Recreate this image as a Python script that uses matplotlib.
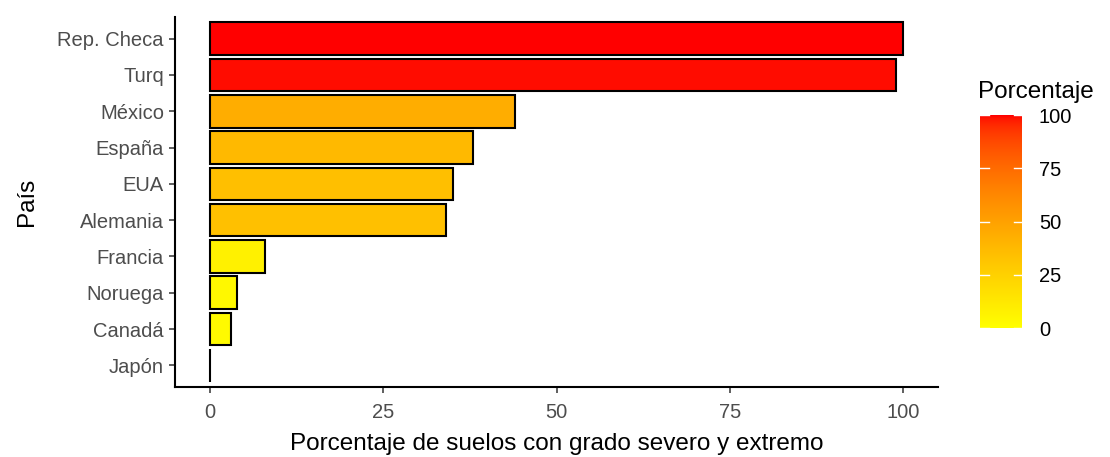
import matplotlib
matplotlib.use("Agg")
import matplotlib.pyplot as plt
import numpy as np
from matplotlib.colors import ListedColormap, Normalize

plt.rcParams['font.family'] = ['Liberation Sans', 'DejaVu Sans']

paises = ['Rep. Checa', 'Turq', 'México', 'España', 'EUA', 'Alemania',
          'Francia', 'Noruega', 'Canadá', 'Japón']
porcentaje = [100, 99, 44, 38, 35, 34, 8, 4, 3, 0]


# ggplot-like gradient yellow -> red, interpolated in Lab space
def srgb_to_lab(rgb):
    c = np.array(rgb, dtype=float)
    c = np.where(c <= 0.04045, c / 12.92, ((c + 0.055) / 1.055) ** 2.4)
    m = np.array([[0.4124, 0.3576, 0.1805],
                  [0.2126, 0.7152, 0.0722],
                  [0.0193, 0.1192, 0.9505]])
    xyz = m @ c / np.array([0.95047, 1.0, 1.08883])
    f = np.where(xyz > 0.008856, np.cbrt(xyz), 7.787 * xyz + 16 / 116)
    return np.array([116 * f[1] - 16, 500 * (f[0] - f[1]), 200 * (f[1] - f[2])])


def lab_to_srgb(lab):
    L, a, b = lab
    fy = (L + 16) / 116
    fx = fy + a / 500
    fz = fy - b / 200
    f = np.array([fx, fy, fz])
    xyz = np.where(f ** 3 > 0.008856, f ** 3, (f - 16 / 116) / 7.787)
    xyz = xyz * np.array([0.95047, 1.0, 1.08883])
    minv = np.array([[3.2406, -1.5372, -0.4986],
                     [-0.9689, 1.8758, 0.0415],
                     [0.0557, -0.2040, 1.0570]])
    c = minv @ xyz
    c = np.where(c <= 0.0031308, 12.92 * c, 1.055 * np.clip(c, 0, None) ** (1 / 2.4) - 0.055)
    return np.clip(c, 0, 1)


lo = srgb_to_lab([1, 1, 0])
hi = srgb_to_lab([1, 0, 0])
cmap = ListedColormap([lab_to_srgb(lo + (hi - lo) * t) for t in np.linspace(0, 1, 256)])
norm = Normalize(0, 100)

fig = plt.figure(figsize=(11.1, 4.57), dpi=100)
ax = fig.add_axes([0.1577, 0.153, 0.6874, 0.81])

y = np.arange(len(paises))[::-1]
ax.barh(y, porcentaje, height=0.9, color=cmap(norm(np.array(porcentaje))),
        edgecolor='black', linewidth=1.5)

ax.set_xlim(-5, 105)
ax.set_ylim(-0.6, len(paises) - 0.4)
ax.set_xticks([0, 25, 50, 75, 100])
ax.set_yticks(y)
ax.set_yticklabels(paises)
ax.tick_params(labelsize=14.5, labelcolor='#4D4D4D', color='#333333',
               width=1.1, length=4.5)
ax.tick_params(axis='x', pad=7)
for s in ['top', 'right']:
    ax.spines[s].set_visible(False)
for s in ['left', 'bottom']:
    ax.spines[s].set_linewidth(1.5)
ax.set_xlabel('Porcentaje de suelos con grado severo y extremo', fontsize=17.5, labelpad=8)
ax.set_ylabel('País', fontsize=17.5, labelpad=14)

# colorbar legend
cax = fig.add_axes([0.883, 0.282, 0.0378, 0.466])
grad = np.linspace(0, 100, 256).reshape(-1, 1)
cax.imshow(grad, cmap=cmap, norm=norm, aspect='auto', origin='lower',
           extent=[0, 1, 0, 100])
cax.set_xlim(0, 1)
cax.set_ylim(0, 100)
for v in [0, 25, 50, 75, 100]:
    cax.plot([0, 0.2], [v, v], color='white', lw=1)
    cax.plot([0.8, 1], [v, v], color='white', lw=1)
cax.set_xticks([])
cax.yaxis.tick_right()
cax.set_yticks([0, 25, 50, 75, 100])
cax.tick_params(length=0, labelsize=14.5, labelcolor='black', pad=12)
for s in cax.spines.values():
    s.set_visible(False)
fig.text(0.881, 0.775, 'Porcentaje', fontsize=17.5, ha='left', va='bottom')

fig.savefig('out.png', dpi=100)
